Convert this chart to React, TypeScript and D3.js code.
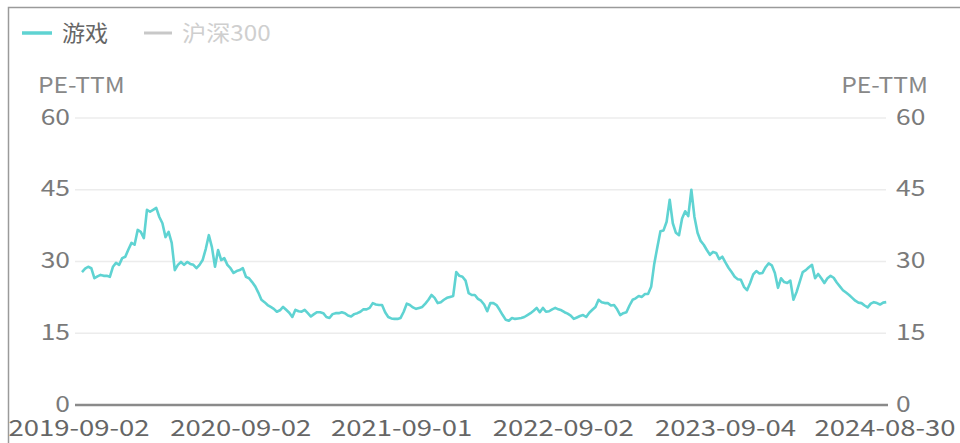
import React, { useEffect } from "react";
import * as d3 from "d3";

const seriesNames = ["游戏", "沪深300"];
const xTickLabels = ["2019-09-02", "2020-09-02", "2021-09-01", "2022-09-02", "2023-09-04", "2024-08-30"];
const yTicks = [0, 15, 30, 45, 60];
const axisTitle = "PE-TTM";

// weekly PE-TTM of 游戏 (Mondays from 2019-09-02)
const gameValues = [
  27.8, 28.5, 28.9, 28.6, 26.5, 26.9, 27.2, 27, 27, 26.8,
  28.9, 29.7, 29.3, 30.7, 31, 32.5, 33.9, 33.5, 36.6, 36.2,
  34.9, 40.8, 40.4, 40.8, 41.2, 39.3, 38, 35.1, 36.2, 33.9,
  28.2, 29.3, 29.9, 29.3, 29.9, 29.5, 29.3, 28.6, 29.3, 30.3,
  32.6, 35.5, 33, 28.9, 32.4, 30.3, 30.7, 29.3, 28.6, 27.6,
  28, 28.2, 28.6, 26.8, 26.5, 25.7, 24.8, 23.5, 22, 21.5,
  20.9, 20.5, 20.1, 19.5, 19.8, 20.5, 19.9, 19.3, 18.4, 19.9,
  19.6, 19.5, 19.9, 19.2, 18.5, 19, 19.4, 19.4, 19.2, 18.4,
  18.2, 19, 19.2, 19.2, 19.4, 19.2, 18.7, 18.5, 19, 19.2,
  19.5, 20, 20, 20.3, 21.3, 21, 20.9, 20.9, 19.4, 18.4,
  18.1, 18, 18, 18.2, 19.5, 21.2, 20.9, 20.4, 20.1, 20.3,
  20.5, 21.2, 22, 23, 22.4, 21.3, 21.5, 22, 22.4, 22.6,
  22.8, 27.8, 27, 26.8, 26, 23.4, 23, 23, 22.2, 21.8,
  21, 19.6, 21.3, 21.3, 20.9, 19.9, 18.8, 17.8, 17.6, 18.2,
  18, 18.1, 18.2, 18.4, 18.8, 19.2, 19.7, 20.3, 19.4, 20.3,
  19.5, 19.6, 20, 20.3, 20, 19.8, 19.4, 19.1, 18.7, 18,
  18.3, 18.6, 18.8, 18.4, 19.3, 19.9, 20.5, 22, 21.5, 21.3,
  21.3, 20.8, 20.9, 20, 18.8, 19.2, 19.4, 20.8, 22, 22.3,
  22.8, 22.6, 23.2, 23.2, 24.7, 29.5, 33, 36.3, 36.5, 38.3,
  42.9, 38, 36, 35.5, 39, 40.5, 39.5, 45, 39.3, 36,
  34.3, 33.5, 32.4, 31.4, 32, 31.8, 30.5, 31, 29.8, 28.7,
  27.8, 26.8, 26.3, 26.2, 24.7, 24, 25.5, 27.3, 28, 27.5,
  27.6, 28.8, 29.6, 29.2, 27.6, 24.5, 26.5, 25.7, 25.5, 26,
  22, 23.6, 25.7, 27.8, 28.2, 28.8, 29.3, 26.5, 27.4, 26.5,
  25.5, 26.5, 27, 26.6, 25.6, 24.8, 24, 23.5, 23, 22.4,
  21.8, 21.4, 21.3, 20.8, 20.4, 21.2, 21.5, 21.3, 21, 21.4,
  21.5,
];

const W = 960;
const H = 443;
const font = "'Noto Sans CJK SC', 'Noto Sans', sans-serif";

type TProps = {
  x: number;
  y: number;
  sx: number;
  anchor?: "start" | "middle" | "end";
  fill: string;
  size?: number;
  children: React.ReactNode;
};

function T({ x, y, sx, anchor = "start", fill, size = 22, children }: TProps) {
  return (
    <text
      transform={`translate(${x},${y}) scale(${sx},1)`}
      dy="0.35em"
      fontSize={size}
      fill={fill}
      textAnchor={anchor}
    >
      {children}
    </text>
  );
}

export default function App() {
  useEffect(() => {
    document.body.style.margin = "0";
  }, []);

  const parse = d3.timeParse("%Y-%m-%d");
  const start = parse(xTickLabels[0]) as Date;
  const end = parse(xTickLabels[xTickLabels.length - 1]) as Date;
  const dates = d3.timeMonday.range(start, d3.timeDay.offset(end, 1));
  const data = gameValues.map((v, i) => ({ date: dates[i], value: v }));

  const x = d3.scaleTime().domain([start, end]).range([82, 888]);
  const y = d3.scaleLinear().domain([0, 60]).range([405, 118]);

  const line = d3
    .line<{ date: Date; value: number }>()
    .x((d) => x(d.date))
    .y((d) => y(d.value));

  const gridX0 = 75;
  const gridX1 = 886;

  return (
    <svg width={W} height={H} style={{ display: "block", background: "#fff" }} fontFamily={font}>
      <rect x={8.5} y={7.5} width={W + 10} height={H + 10} fill="none" stroke="#9a9a9a" strokeWidth={1.5} />
      {/* legend */}
      <line x1={22} x2={52} y1={33} y2={33} stroke="#5fd3d2" strokeWidth={3.5} />
      <T x={62} y={33} sx={1.05} fill="#666">{seriesNames[0]}</T>
      <line x1={144} x2={172} y1={33} y2={33} stroke="#c8c8c8" strokeWidth={3} />
      <T x={182} y={33} sx={1.1} fill="#cfcfcf">{seriesNames[1]}</T>

      {/* axis titles */}
      <T x={38} y={85} sx={1.12} fill="#888">{axisTitle}</T>
      <T x={928} y={85} sx={1.12} fill="#888" anchor="end">{axisTitle}</T>

      {/* grid + y labels */}
      {yTicks.map((t) => (
        <g key={t}>
          {t !== 0 && (
            <line x1={gridX0} x2={gridX1} y1={y(t)} y2={y(t)} stroke="#ececec" strokeWidth={1.5} />
          )}
          <T x={70} y={y(t) - 1} sx={1.2} fill="#7a7a7a" anchor="end">{t}</T>
          <T x={896} y={y(t) - 1} sx={1.2} fill="#7a7a7a">{t}</T>
        </g>
      ))}

      {/* x axis */}
      <line x1={gridX0} x2={888} y1={y(0)} y2={y(0)} stroke="#8a8a8a" strokeWidth={2.5} />
      {xTickLabels.map((l) => (
        <T key={l} x={x(parse(l) as Date) - 3} y={428} sx={1.25} fill="#666" anchor="middle">
          {l}
        </T>
      ))}

      {/* series */}
      <path d={line(data) ?? ""} fill="none" stroke="#5fd3d2" strokeWidth={2.6} strokeLinejoin="round" />
    </svg>
  );
}
